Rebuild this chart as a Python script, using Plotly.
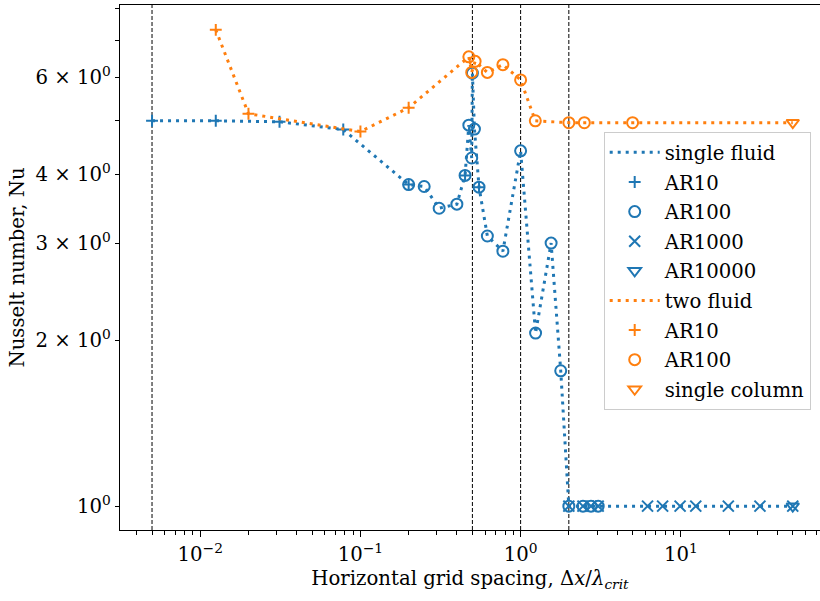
import plotly.graph_objects as go

# ---------------- data ----------------
# single fluid
sf_ar10_x = [0.005, 0.0125, 0.03125, 0.078125, 0.2, 0.45, 0.55]
sf_ar10_y = [5.0, 5.0, 4.98, 4.82, 3.83, 3.98, 3.79]

sf_ar100_x = [0.2, 0.25, 0.31, 0.4, 0.45, 0.475, 0.495, 0.5, 0.515, 0.55,
              0.62, 0.775, 1.0, 1.24, 1.55, 1.78, 2.0, 2.45, 2.75, 3.05]
sf_ar100_y = [3.83, 3.80, 3.47, 3.53, 3.98, 4.91, 4.28, 6.1, 4.83, 3.79,
              3.09, 2.90, 4.41, 2.06, 3.00, 1.76, 1.0, 1.0, 1.0, 1.0]

sf_ar1000_x = [2.0, 2.45, 2.75, 3.05, 6.2, 7.7, 9.9, 12.4, 19.8, 31.2, 50.0]
sf_ar1000_y = [1.0, 1.0, 1.0, 1.0, 1.0, 1.0, 1.0, 1.0, 1.0, 1.0, 1.0]

sf_ar10000_x = [50.0]
sf_ar10000_y = [1.0]

# two fluid
tf_ar10_x = [0.0125, 0.02, 0.1, 0.2]
tf_ar10_y = [7.31, 5.15, 4.78, 5.28]

tf_ar100_x = [0.475, 0.495, 0.52, 0.62, 0.775, 1.0, 1.235, 2.0, 2.5, 5.0]
tf_ar100_y = [6.53, 6.12, 6.41, 6.12, 6.32, 5.93, 5.0, 4.96, 4.96, 4.96]

tf_sc_x = [50.0]
tf_sc_y = [4.96]

vlines_x = [0.005, 0.5, 1.0, 2.0]

xtick_vals = [0.01, 0.1, 1, 10]
xtick_text = ["10<sup>−2</sup>", "10<sup>−1</sup>", "10<sup>0</sup>", "10<sup>1</sup>"]
ytick_vals = [1, 2, 3, 4, 5, 6, 7, 8]
ytick_text = ["10<sup>0</sup>", "2 × 10<sup>0</sup>", "3 × 10<sup>0</sup>",
              "4 × 10<sup>0</sup>", "", "6 × 10<sup>0</sup>", "", ""]

BLUE = "#1f77b4"
ORANGE = "#ff7f0e"
FONT = "DejaVu Serif"
FS = 19.7


def sorted_line(*series):
    pts = []
    for xs, ys in series:
        pts.extend(zip(xs, ys))
    pts.sort(key=lambda p: p[0])
    ox, oy = [], []
    for a, b in pts:
        if not ox or (a, b) != (ox[-1], oy[-1]):
            ox.append(a)
            oy.append(b)
    return ox, oy


SIZES = {"cross-thin-open": 8.5, "circle-open": 11, "x-thin-open": 11,
         "triangle-down-open": 11}


def mk(x, y, name, sym, color, grp):
    return go.Scatter(x=x, y=y, mode="markers", name=name, legendgroup=grp,
                      marker=dict(symbol=sym, size=SIZES[sym], color=color,
                                  line=dict(color=color, width=2)))


fig = go.Figure()

lx, ly = sorted_line((sf_ar10_x, sf_ar10_y), (sf_ar100_x, sf_ar100_y),
                     (sf_ar1000_x, sf_ar1000_y), (sf_ar10000_x, sf_ar10000_y))
fig.add_trace(go.Scatter(x=lx, y=ly, mode="lines", name="single fluid",
                         line=dict(color=BLUE, width=3, dash="3px,5px"),
                         legendgroup="g1"))
fig.add_trace(mk(sf_ar10_x, sf_ar10_y, "AR10", "cross-thin-open", BLUE, "g2"))
fig.add_trace(mk(sf_ar100_x, sf_ar100_y, "AR100", "circle-open", BLUE, "g3"))
fig.add_trace(mk(sf_ar1000_x, sf_ar1000_y, "AR1000", "x-thin-open", BLUE, "g4"))
fig.add_trace(mk(sf_ar10000_x, sf_ar10000_y, "AR10000", "triangle-down-open", BLUE, "g5"))

tx, ty = sorted_line((tf_ar10_x, tf_ar10_y), (tf_ar100_x, tf_ar100_y), (tf_sc_x, tf_sc_y))
fig.add_trace(go.Scatter(x=tx, y=ty, mode="lines", name="two fluid",
                         line=dict(color=ORANGE, width=3, dash="3px,5px"),
                         legendgroup="g6"))
fig.add_trace(mk(tf_ar10_x, tf_ar10_y, "AR10", "cross-thin-open", ORANGE, "g7"))
fig.add_trace(mk(tf_ar100_x, tf_ar100_y, "AR100", "circle-open", ORANGE, "g8"))
fig.add_trace(mk(tf_sc_x, tf_sc_y, "single column", "triangle-down-open", ORANGE, "g9"))

for v in vlines_x:
    fig.add_shape(type="line", xref="x", yref="paper", x0=v, x1=v, y0=0, y1=1,
                  line=dict(color="black", width=1, dash="4px,2px"), layer="below")

minor_x = [k * 10.0 ** e for e in range(-3, 2) for k in range(2, 10)]

fig.update_layout(
    width=820, height=601,
    margin=dict(l=120, r=0, t=5, b=71),
    paper_bgcolor="white", plot_bgcolor="white",
    font=dict(family=FONT, size=FS, color="black"),
    showlegend=True,
    legend=dict(x=0.691, y=0.758, xanchor="left", yanchor="top",
                bgcolor="rgba(255,255,255,0.8)", bordercolor="#cccccc",
                borderwidth=1, font=dict(family=FONT, size=FS),
                traceorder="grouped", tracegroupgap=1, itemwidth=50),
    xaxis=dict(type="log", range=[-2.501, 1.869], showgrid=False, zeroline=False,
               showline=True, linecolor="black", linewidth=1.4, mirror=True,
               ticks="outside", ticklen=6, tickwidth=1.4, tickcolor="black",
               tickmode="array", tickvals=xtick_vals, ticktext=xtick_text,
               minor=dict(tickmode="array", tickvals=minor_x, ticks="outside",
                          ticklen=3.5, tickwidth=1.2, tickcolor="black", showgrid=False),
               title=dict(text="Horizontal grid spacing, Δ<i>x</i>/<i>λ</i><sub><i>crit</i></sub>",
                          font=dict(family=FONT, size=FS), standoff=6)),
    yaxis=dict(type="log", range=[-0.0433, 0.909], showgrid=False, zeroline=False,
               showline=True, linecolor="black", linewidth=1.4, mirror=False,
               ticks="outside", ticklen=4, tickwidth=1.4, tickcolor="black",
               tickmode="array", tickvals=ytick_vals, ticktext=ytick_text,
               title=dict(text="Nusselt number, Nu", font=dict(family=FONT, size=FS),
                          standoff=5)),
)

fig.write_html("out.html")
